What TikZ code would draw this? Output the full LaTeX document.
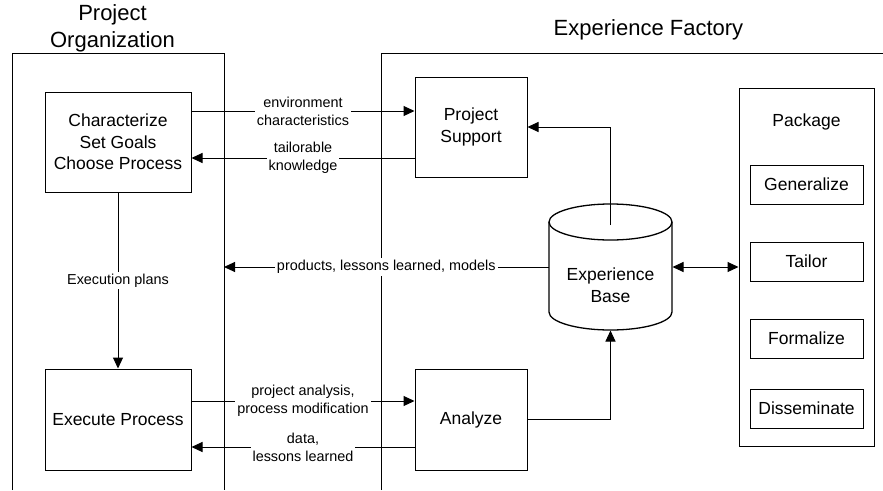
\documentclass[tikz,border=0pt]{standalone}
\usepackage{fontspec}
\setmainfont{Liberation Sans}
\usetikzlibrary{arrows.meta}
\begin{document}
\begin{tikzpicture}[x=1pt,y=-1pt,line width=1pt,
  box/.style={draw,line width=1pt,align=center,font=\fontsize{17.5}{21.5}\selectfont,inner sep=0pt},
  plain/.style={align=center,font=\fontsize{17.5}{21.5}\selectfont,inner sep=0pt},
  lbl/.style={fill=white,align=center,font=\fontsize{14.4}{18}\selectfont,inner sep=2pt},
  ttl/.style={align=center,font=\fontsize{22}{27}\selectfont,inner sep=0pt},
  tip/.style={Triangle[length=11pt,width=10pt]},
  arr/.style={-{Triangle[length=11pt,width=10pt]}},
  darr/.style={{Triangle[length=11pt,width=10pt]}-{Triangle[length=11pt,width=10pt]}}]
\useasboundingbox (0,0) rectangle (883,490);
% frames
\draw (12,490) -- (12,53) -- (224,53) -- (224,490);
\draw (381,490) -- (381,53) -- (883,53);
\coordinate (poR) at (224,267);
\node[ttl] (potitle) at (112.5,28.5) {Project\\Organization};
\node[ttl] (eftitle) at (648.5,30) {Experience Factory};
% boxes
\node[box,minimum width=146,minimum height=100] (char) at (118,142) {Characterize\\Set Goals\\Choose Process};
\node[box,minimum width=146,minimum height=101] (exec) at (118,419.5) {Execute Process};
\node[box,minimum width=112,minimum height=100] (ps) at (471,127) {Project\\Support};
\node[box,minimum width=112,minimum height=101] (ana) at (471,419.5) {Analyze};
\node[box,minimum width=135,minimum height=358] (pkg) at (806.5,267) {};
\node[plain] (pkgt) at (806.5,122) {Package};
\node[box,minimum width=113,minimum height=39] (gen) at (806.5,184.5) {Generalize};
\node[box,minimum width=113,minimum height=39] (tai) at (806.5,261.5) {Tailor};
\node[box,minimum width=113,minimum height=39] (frm) at (806.5,338.5) {Formalize};
\node[box,minimum width=113,minimum height=39] (dis) at (806.5,408.5) {Disseminate};
% experience base cylinder
\node[minimum width=123,minimum height=126,inner sep=0pt] (eb) at (610.5,267) {};
\draw[line width=1.3pt] (549,222) -- (549,312) arc[start angle=180,end angle=360,x radius=61.5pt,y radius=18pt] -- (672,222);
\draw[line width=1.3pt] (610.5,222) ellipse [x radius=61.5pt,y radius=18pt];
\node[plain] (ebt) at (610.5,285) {Experience\\Base};
\coordinate (ebtop) at (610.5,225);
% connectors
\draw[arr] ([yshift=31pt]char.east) -- ([yshift=31pt]char.east -| ps.west)
  node[lbl,midway] {environment\\characteristics};
\draw[arr] ([yshift=-16pt]char.east -| ps.west) -- ([yshift=-16pt]char.east)
  node[lbl,midway] {tailorable\\knowledge};
\draw[arr] (char.south) -- (exec.north) node[lbl,midway] {Execution plans};
\draw[arr] ([yshift=18.5pt]exec.east) -- ([yshift=18.5pt]exec.east -| ana.west)
  node[lbl,midway] {project analysis,\\process modification};
\draw[arr] ([yshift=-27.5pt]exec.east -| ana.west) -- ([yshift=-27.5pt]exec.east)
  node[lbl,midway] {data,\\lessons learned};
\draw[arr] (eb.west) -- (poR) node[lbl,midway] {products, lessons learned, models};
\draw[arr] (ebtop) |- (ps.east);
\draw[arr] (ana.east) -| (eb.south);
\draw[darr] (eb.east) -- (pkg.west);
\end{tikzpicture}
\end{document}
